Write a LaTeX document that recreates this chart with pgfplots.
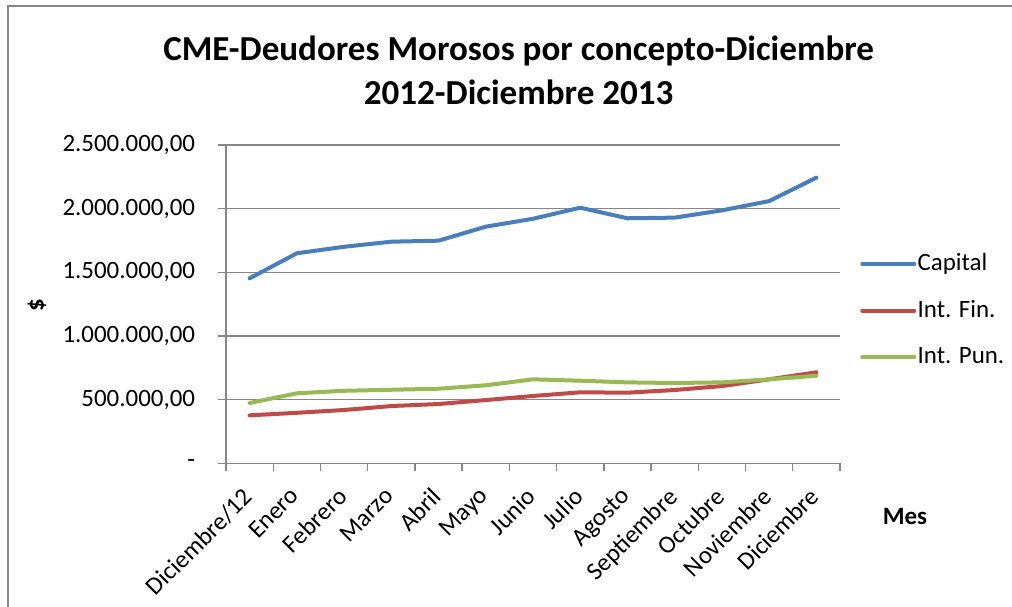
\documentclass[border=0pt]{standalone}
\usepackage{pgfplots}
\pgfplotsset{compat=1.18}
\usepackage{fontspec}
\setmainfont{Carlito}
\definecolor{cblue}{RGB}{74,126,187}
\definecolor{cred}{RGB}{190,75,72}
\definecolor{cgreen}{RGB}{152,185,84}
\definecolor{cgrid}{RGB}{134,134,134}
\begin{document}
\begin{tikzpicture}
\useasboundingbox (0pt,0pt) rectangle (759pt,-454.5pt);
\draw[cgrid, line width=1.2pt] (6pt,-460pt) -- (6pt,-4.5pt) -- (765pt,-4.5pt);
\node[font=\fontsize{26.3}{33}\selectfont\bfseries, align=center] at (389pt,-53pt)
  {CME-Deudores Morosos por concepto-Diciembre\\2012-Diciembre 2013};
\node[font=\fontsize{18.7}{22}\selectfont\bfseries, rotate=90] at (27.75pt,-228.75pt) {\$};
\node[font=\fontsize{18.7}{22}\selectfont\bfseries] at (678.75pt,-387.75pt) {Mes};
\begin{axis}[
  at={(169.5pt,-347.5pt)}, anchor=south west,
  scale only axis, width=460.5pt, height=238.7pt,
  xmin=-0.5, xmax=12.5, ymin=0, ymax=2500000,
  scaled y ticks=false,
  axis lines=left, axis line style={-, cgrid, line width=1pt},
  xtick={0,...,12},
  xticklabels={Diciembre/12,Enero,Febrero,Marzo,Abril,Mayo,Junio,Julio,Agosto,Septiembre,Octubre,Noviembre,Diciembre},
  major x tick style={draw=none},
  minor xtick={-0.5,0.5,...,12.5},
  minor tick length=6pt,
  minor x tick style={cgrid, line width=1pt},
  ytick={0,500000,1000000,1500000,2000000,2500000},
  yticklabels={{-\hspace{8pt}},{500.000,00},{1.000.000,00},{1.500.000,00},{2.000.000,00},{2.500.000,00}},
  major tick length=6pt,
  major y tick style={cgrid, line width=1pt},
  tick align=outside,
  ymajorgrids, grid style={cgrid, line width=1pt},
  tick label style={font=\fontsize{18.7}{22}\selectfont},
  yticklabel style={anchor=east, inner sep=0pt, xshift=-17pt},
  xticklabel style={inner sep=0pt, xshift=-6pt, yshift=-11pt, rotate=45, anchor=north east},
  /pgf/number format/assume math mode=true,
  clip=false,
  legend style={at={(1.0326,0.665)}, anchor=north west, draw=none, fill=none,
    font=\fontsize{18.7}{22}\selectfont, row sep=17pt, inner sep=0pt,
    nodes={inner sep=1pt, text height=13pt, text depth=3pt}},
  legend cell align=left,
  legend image code/.code={\draw[#1, line width=3pt] (0pt,0pt) -- (39pt,0pt);},
  every axis plot/.append style={line width=3pt, line join=round, line cap=round},
]
\addplot[cblue] coordinates {(0,1453000) (1,1650000) (2,1701000) (3,1741000) (4,1749000) (5,1859000) (6,1921000) (7,2008000) (8,1925000) (9,1930000) (10,1987000) (11,2060000) (12,2244000)};
\addlegendentry{Capital}
\addplot[cred] coordinates {(0,377000) (1,397000) (2,419000) (3,450000) (4,466000) (5,497000) (6,529000) (7,558000) (8,555000) (9,576000) (10,607000) (11,660000) (12,715000)};
\addlegendentry{Int. Fin.}
\addplot[cgreen] coordinates {(0,474000) (1,550000) (2,570000) (3,578000) (4,586000) (5,613000) (6,660000) (7,649000) (8,636000) (9,631000) (10,636000) (11,660000) (12,688000)};
\addlegendentry{Int. Pun.}
\end{axis}
\end{tikzpicture}
\end{document}
